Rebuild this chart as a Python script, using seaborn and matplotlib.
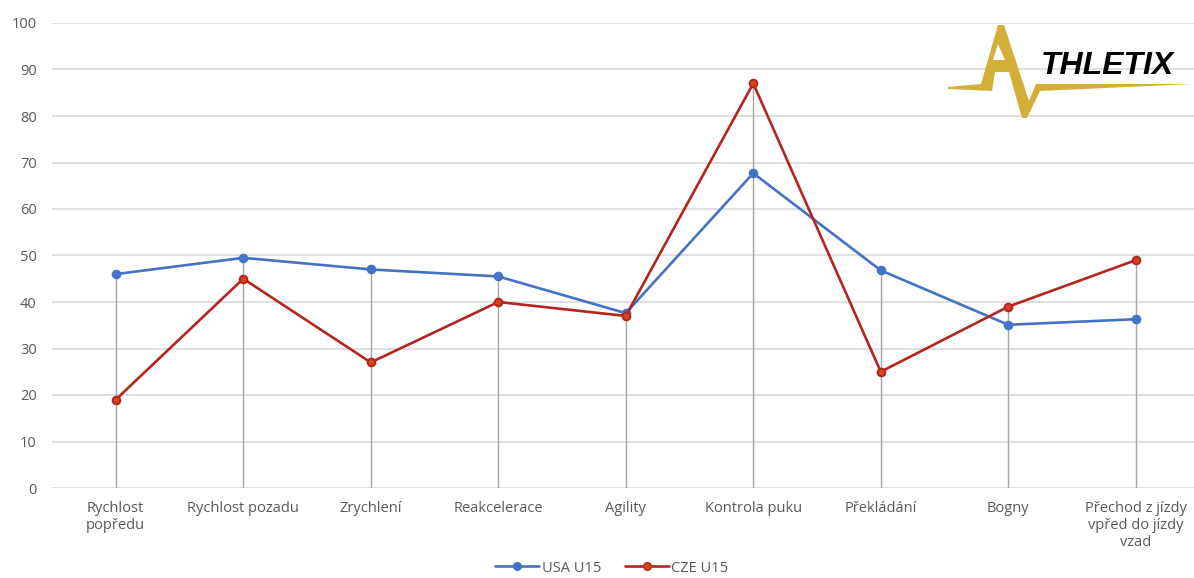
import matplotlib
matplotlib.use("Agg")
import matplotlib.pyplot as plt
from matplotlib.patches import Polygon
from matplotlib.lines import Line2D
import seaborn as sns
import pandas as pd

# Skill categories and team results
categories = [
    "Rychlost\npopředu",
    "Rychlost pozadu",
    "Zrychlení",
    "Reakcelerace",
    "Agility",
    "Kontrola puku",
    "Překládání",
    "Bogny",
    "Přechod z jízdy\nvpřed do jízdy\nvzad",
]
usa_u15 = [46.0, 49.5, 47.0, 45.5, 37.6, 67.7, 46.8, 35.1, 36.3]
cze_u15 = [19.0, 45.0, 27.0, 40.0, 37.0, 87.0, 25.0, 39.0, 49.0]
series_names = ["USA U15", "CZE U15"]
y_ticks = [0, 10, 20, 30, 40, 50, 60, 70, 80, 90, 100]

BLUE = "#4472C4"
RED = "#B3261E"
RED_MARK = "#D9431E"
GRID = "#D9D9D9"
DROP = "#A6A6A6"
TEXT = "#595959"
GOLD = "#D4AF37"

df = pd.DataFrame({
    "skill": categories * 2,
    "value": usa_u15 + cze_u15,
    "team": [series_names[0]] * len(categories) + [series_names[1]] * len(categories),
})

sns.set_theme(style="white")
plt.rcParams["font.family"] = ["Open Sans", "DejaVu Sans"]

W, H = 1194, 578
fig = plt.figure(figsize=(W / 100, H / 100), dpi=100)
# plot area runs slightly past the right edge of the canvas
ax = fig.add_axes([52 / W, (H - 488) / H, (9 * 127.5) / W, (488 - 23) / H])

# Drop lines from the higher of the two values down to zero
peaks = [max(a, b) for a, b in zip(usa_u15, cze_u15)]
ax.vlines(range(len(categories)), 0, peaks, color=DROP, lw=1.0, zorder=1)

sns.pointplot(
    data=df, x="skill", y="value", hue="team", order=categories,
    hue_order=series_names, palette=[BLUE, RED], markers="o",
    errorbar=None, dodge=False, linewidth=1.9, markersize=5.5,
    legend=False, ax=ax, zorder=3,
)

# Slightly brighter markers on the red series
for ln in ax.lines:
    if matplotlib.colors.to_hex(ln.get_color()) == RED.lower():
        ln.set_markerfacecolor(RED_MARK)
        ln.set_markeredgecolor(RED)

ax.set_xlim(-0.5, len(categories) - 0.5)
ax.set_ylim(0, 100)
ax.set_yticks(y_ticks)
ax.yaxis.grid(True, color=GRID, lw=1.2)
ax.set_axisbelow(True)
for s in ax.spines.values():
    s.set_visible(False)
ax.set_xlabel("")
ax.set_ylabel("")
ax.tick_params(axis="y", length=0, pad=11, labelsize=10.5, labelcolor=TEXT)
ax.tick_params(axis="x", length=0, pad=9, labelsize=10.5, labelcolor=TEXT)
for lbl in ax.get_xticklabels():
    lbl.set_multialignment("center")

handles = [
    Line2D([], [], color=BLUE, lw=1.9, marker="o", markersize=5.5),
    Line2D([], [], color=RED, lw=1.9, marker="o", markersize=5.5,
           markerfacecolor=RED_MARK, markeredgecolor=RED),
]
fig.legend(handles, series_names, loc="center", bbox_to_anchor=(612 / W, 1 - 568 / H),
           ncol=2, frameon=False, fontsize=10.5, labelcolor=TEXT,
           handlelength=3.0, handletextpad=0.2, columnspacing=1.6)


# Brand mark in the upper right corner (pixel coordinates from top-left)
def px(x, y):
    return (x / W, 1 - y / H)


def poly(points, color, z=10):
    fig.add_artist(Polygon([px(*p) for p in points], closed=True, color=color,
                           transform=fig.transFigure, lw=0, zorder=z))


poly([(948, 87), (981, 84), (998, 25), (1004, 25), (1029, 101), (1036, 84),
      (1192, 84), (1040, 91), (1027, 118), (1022, 118), (1009, 72),
      (995, 72), (992, 91), (948, 89)], GOLD)
poly([(998, 44), (993, 60), (1005, 60)], "white", z=11)
fig.text(1041 / W, 1 - 74 / H, "THLETIX", fontsize=23, fontweight="bold",
         fontstyle="italic", family=["Liberation Sans", "DejaVu Sans"],
         color="black", ha="left", va="baseline", zorder=12)

fig.savefig("out.png", dpi=100, facecolor="white")
